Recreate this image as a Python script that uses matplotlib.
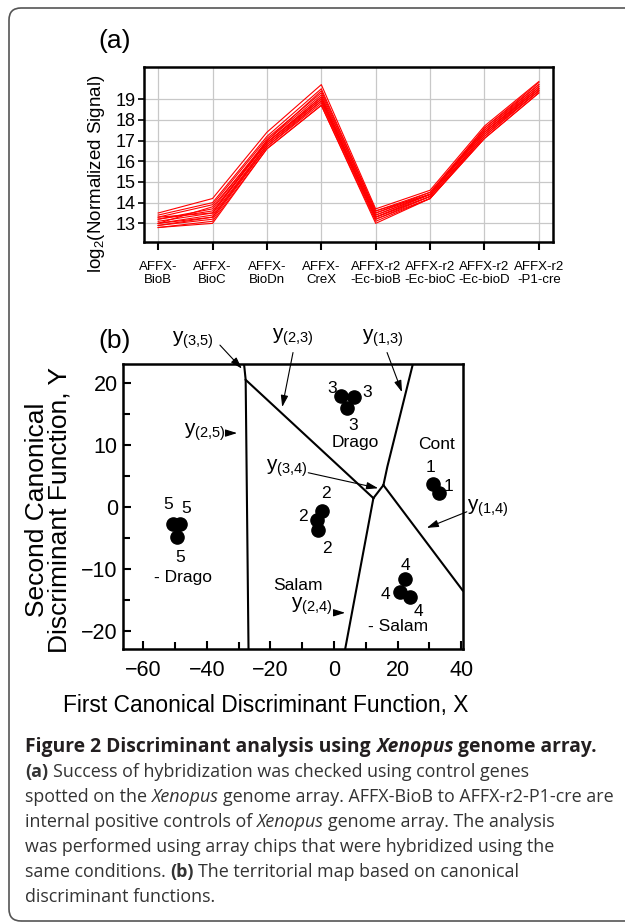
import matplotlib
matplotlib.use("Agg")
import matplotlib.pyplot as plt
import matplotlib.transforms as mtransforms
from matplotlib.patches import FancyBboxPatch
from matplotlib.ticker import MultipleLocator

plt.rcParams['font.family'] = ['Liberation Sans', 'DejaVu Sans']

# ---- panel (a): control gene signals ----
controls = ["AFFX-\nBioB", "AFFX-\nBioC", "AFFX-\nBioDn", "AFFX-\nCreX",
            "AFFX-r2\n-Ec-bioB", "AFFX-r2\n-Ec-bioC", "AFFX-r2\n-Ec-bioD", "AFFX-r2\n-P1-cre"]
signal = [
    [13.5, 14.2, 17.4, 19.7, 13.7, 14.6, 17.7, 19.85],
    [13.4, 14.0, 17.2, 19.5, 13.6, 14.5, 17.6, 19.8],
    [13.3, 13.9, 17.1, 19.3, 13.5, 14.5, 17.5, 19.7],
    [13.2, 13.7, 17.0, 19.2, 13.5, 14.4, 17.5, 19.6],
    [13.2, 13.6, 16.9, 19.1, 13.4, 14.4, 17.4, 19.6],
    [13.1, 13.5, 16.9, 19.0, 13.4, 14.4, 17.4, 19.5],
    [13.0, 13.4, 16.8, 19.0, 13.3, 14.3, 17.3, 19.5],
    [13.0, 13.3, 16.8, 18.9, 13.3, 14.3, 17.3, 19.4],
    [12.9, 13.3, 16.7, 18.9, 13.2, 14.3, 17.2, 19.4],
    [12.9, 13.2, 16.7, 18.8, 13.2, 14.2, 17.2, 19.4],
    [12.8, 13.1, 16.6, 18.7, 13.1, 14.2, 17.1, 19.3],
    [12.8, 13.0, 16.6, 18.7, 13.0, 14.2, 17.1, 19.3],
    [13.3, 13.5, 17.0, 19.4, 13.6, 14.4, 17.6, 19.7],
    [13.0, 13.8, 16.9, 19.1, 13.3, 14.4, 17.4, 19.5],
]
a_yticks = [13, 14, 15, 16, 17, 18, 19]

# ---- panel (b): canonical discriminant scores ----
cont_x, cont_y = [31.3, 32.9], [3.7, 2.3]             # 1
salam_x, salam_y = [-3.9, -5.4, -4.9], [-0.6, -2.2, -3.8]   # 2
drago_x, drago_y = [2.1, 6.3, 4.2], [17.9, 17.7, 15.9]      # 3
msalam_x, msalam_y = [22.4, 20.8, 23.9], [-11.7, -13.7, -14.5]  # 4
mdrago_x, mdrago_y = [-50.8, -48.5, -49.5], [-2.8, -2.8, -4.8]  # 5

# territorial boundaries
b25_x, b25_y = [-28.3, -27.8, -26.9], [23, 20.5, -23]
b23_x, b23_y = [-27.8, 12.4], [20.5, 1.4]
b24_x, b24_y = [12.4, 3.5], [1.4, -23]
b34_x, b34_y = [12.4, 15.55], [1.4, 3.5]
b13_x, b13_y = [15.55, 16.8, 24.8], [3.5, 6.5, 23]
b14_x, b14_y = [15.55, 40.5], [3.5, -13.5]

fig = plt.figure(figsize=(6.25, 9.23), dpi=100)
ident = mtransforms.IdentityTransform()

# ---------- (a) ----------
ax1 = fig.add_axes([0.2304, 0.7378, 0.6544, 0.1896])
for row in signal:
    ax1.plot(range(len(controls)), row, color="#ff0000", lw=0.8)
ax1.set_xlim(-0.26, 7.26)
ax1.set_ylim(12.1, 20.55)
ax1.set_xticks(range(len(controls)))
ax1.set_xticklabels(controls, fontsize=9.5, linespacing=1.05)
ax1.set_yticks(a_yticks)
ax1.tick_params(axis="y", labelsize=13, length=4, width=1.2, pad=2)
ax1.tick_params(axis="x", length=6, width=1.5, pad=8)
ax1.grid(True, color="#c8c8c8", lw=0.9)
ax1.set_axisbelow(True)
for s in ax1.spines.values():
    s.set_linewidth(1.8)
ax1.set_ylabel(r"$\mathregular{log_2}$(Normalized Signal)", fontsize=13.5)
ax1.yaxis.set_label_coords(-0.09, 0.39)
fig.text(115, 923 - 41, "(a)", transform=ident, fontsize=19, ha="center", va="center")

# ---------- (b) ----------
ax2 = fig.add_axes([0.1963, 0.2965, 0.544, 0.3088])
for bx, by in [(b25_x, b25_y), (b23_x, b23_y), (b24_x, b24_y),
               (b34_x, b34_y), (b13_x, b13_y), (b14_x, b14_y)]:
    ax2.plot(bx, by, color="black", lw=1.5)
for px, py in [(cont_x, cont_y), (salam_x, salam_y), (drago_x, drago_y),
               (msalam_x, msalam_y), (mdrago_x, mdrago_y)]:
    ax2.plot(px, py, "o", color="black", ms=9.5)
ax2.set_xlim(-66.5, 40.5)
ax2.set_ylim(-23, 23)
ax2.xaxis.set_major_locator(MultipleLocator(20))
ax2.xaxis.set_minor_locator(MultipleLocator(10))
ax2.yaxis.set_major_locator(MultipleLocator(10))
ax2.yaxis.set_minor_locator(MultipleLocator(5))
ax2.tick_params(which="both", direction="in", width=1.5, labelsize=15.5)
ax2.tick_params(which="major", length=6)
ax2.tick_params(which="minor", length=5)
ax2.tick_params(axis="x", pad=8)
for s in ax2.spines.values():
    s.set_linewidth(1.8)
ax2.set_xlabel("First Canonical Discriminant Function, X", fontsize=16.4)
ax2.xaxis.set_label_coords(0.421, -0.155)
ax2.set_ylabel("Second Canonical\nDiscriminant Function, Y", fontsize=19, linespacing=0.95)
ax2.yaxis.set_label_coords(-0.15, 0.49)
fig.text(115, 923 - 341, "(b)", transform=ident, fontsize=19, ha="center", va="center")

# point labels
pt_labels = [("3", -0.7, 19.1), ("3", 10.4, 18.5), ("3", 6.0, 13.2), ("Drago", 6.6, 10.3),
             ("1", 30.5, 6.4), ("1", 35.9, 3.2), ("Cont", 32.4, 10.0),
             ("2", -2.5, 2.2), ("2", -9.7, -1.5), ("2", -2.2, -6.8),
             ("5", -52.2, 0.3), ("5", -46.6, -0.3), ("5", -48.4, -8.2), ("- Drago", -47.4, -11.4),
             ("4", 22.4, -9.4), ("4", 16.1, -14.2), ("4", 26.5, -16.9), ("- Salam", 20.2, -19.3),
             ("Salam", -11.4, -12.7)]
for txt, x, y in pt_labels:
    ax2.text(x, y, txt, fontsize=12.5, ha="center", va="center")

# boundary labels with arrows: label, text pos, arrow tail, arrow head
bnd_labels = [("(3{,}5)", (-44.4, 26.9), (-35.9, 26.1), (-29.0, 22.3)),
              ("(2{,}3)", (-12.9, 27.4), (-12.9, 24.9), (-16.3, 16.1)),
              ("(1{,}3)", (15.5, 27.2), (16.7, 24.9), (21.4, 18.5)),
              ("(2{,}5)", (-40.5, 12.1), (-33.9, 11.9), (-30.5, 11.9)),
              ("(3{,}4)", (-14.8, 6.3), (-8.1, 5.5), (13.9, 3.0)),
              ("(1{,}4)", (48.5, -0.2), (41.8, -0.8), (29.2, -3.4)),
              ("(2{,}4)", (-6.9, -16.1), (0.4, -17.1), (3.5, -17.1))]
for sub, tpos, tail, head in bnd_labels:
    ax2.text(tpos[0], tpos[1], r"$\mathregular{y_{%s}}$" % sub, fontsize=15,
             ha="center", va="center", clip_on=False)
    ax2.annotate("", xy=head, xytext=tail,
                 arrowprops=dict(arrowstyle="-|>,head_length=0.7,head_width=0.22",
                                 color="black", lw=0.8, shrinkA=0, shrinkB=0))

# ---------- caption ----------
renderer = fig.canvas.get_renderer()


def space_width(size, weight, style):
    t1 = fig.text(0, 0, "a a", fontsize=size, family="Open Sans", fontweight=weight, fontstyle=style, transform=ident)
    t2 = fig.text(0, 0, "aa", fontsize=size, family="Open Sans", fontweight=weight, fontstyle=style, transform=ident)
    w = t1.get_window_extent(renderer).width - t2.get_window_extent(renderer).width
    t1.remove()
    t2.remove()
    return w


def caption_line(y_top, parts, color, size=12.9):
    x = 25
    y = 923 - y_top
    for txt, weight, style in parts:
        if txt.startswith(" "):
            x += space_width(size, weight, style)
            txt = txt.strip()
        t = fig.text(x, y, txt, transform=ident, fontsize=size, family="Open Sans",
                     fontweight=weight, fontstyle=style, va="baseline", color=color)
        x = t.get_window_extent(renderer).x1


N, B, I = "normal", "bold", "italic"
caption_line(752, [("Figure 2 Discriminant analysis using", B, N), (" Xenopus", B, I),
                   (" genome array.", B, N)], "#231f20", size=13.9)
caption_line(777, [("(a)", B, N), (" Success of hybridization was checked using control genes", N, N)], "#333333")
caption_line(802, [("spotted on the", N, N), (" Xenopus", N, I),
                   (" genome array. AFFX-BioB to AFFX-r2-P1-cre are", N, N)], "#333333")
caption_line(827, [("internal positive controls of", N, N), (" Xenopus", N, I),
                   (" genome array. The analysis", N, N)], "#333333")
caption_line(852, [("was performed using array chips that were hybridized using the", N, N)], "#333333")
caption_line(877, [("same conditions.", N, N), (" (b)", B, N),
                   (" The territorial map based on canonical", N, N)], "#333333")
caption_line(902, [("discriminant functions.", N, N)], "#333333")

border = FancyBboxPatch((9, 2), 700, 913, boxstyle="round,pad=0,rounding_size=12",
                        transform=ident, fill=False, ec="#555555", lw=1.2)
fig.add_artist(border)

fig.savefig("out.png", dpi=100)
